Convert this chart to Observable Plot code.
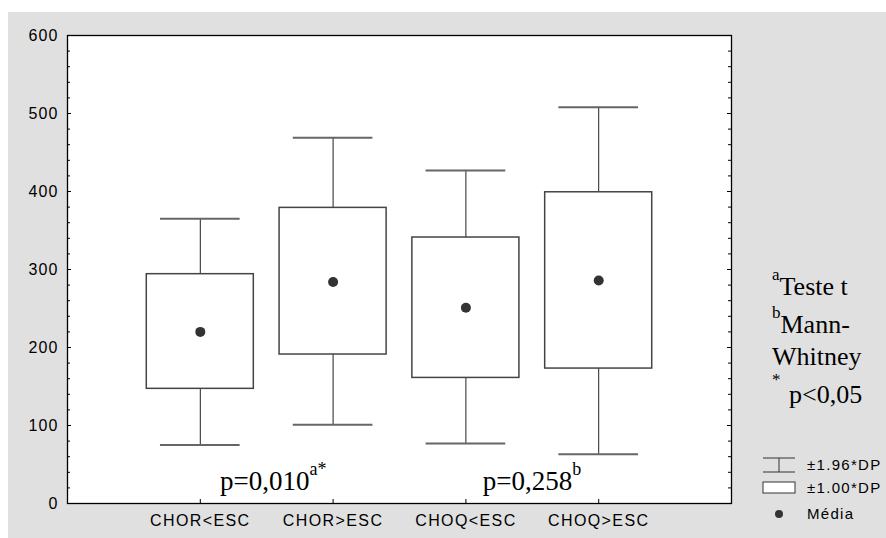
<!DOCTYPE html>
<html>
<head>
<meta charset="utf-8">
<script src="https://cdn.jsdelivr.net/npm/d3@7"></script>
<script src="https://cdn.jsdelivr.net/npm/@observablehq/plot@0.6"></script>
<style>
  body { margin: 0; background: white; }
  #chart svg { display: block; }
  #chart svg [aria-label="y-axis tick label"] text { letter-spacing: 1.1px; }
  #chart svg [aria-label="x-axis tick label"] text { letter-spacing: 1.4px; }
</style>
</head>
<body>
<div id="chart"></div>
<script>
const categories = ["CHOR<ESC", "CHOR>ESC", "CHOQ<ESC", "CHOQ>ESC"];
const means      = [220, 284, 251, 286];
const sd1Low     = [147, 191, 161, 173];
const sd1High    = [294, 379, 341, 399];
const sd196Low   = [75, 101, 77, 63];
const sd196High  = [365, 469, 427, 508];
const yTicks     = [0, 100, 200, 300, 400, 500, 600];
const minorTicks = d3.range(0, 601, 20);
const positions  = [1, 2, 3, 4];

const rows = categories.map((c, i) => ({
  cat: c, pos: positions[i], mean: means[i],
  lo1: sd1Low[i], hi1: sd1High[i], lo2: sd196Low[i], hi2: sd196High[i]
}));

const W = 886, H = 538, ML = 67, MR = 155, MT = 35, MB = 35;
const PW = W - ML - MR, PH = H - MT - MB;

const plot = Plot.plot({
  width: W, height: H,
  marginLeft: ML, marginRight: MR, marginTop: MT, marginBottom: MB,
  style: {fontFamily: "'Liberation Sans', Arial, sans-serif", fontSize: "16px", color: "black", background: "white"},
  x: {domain: [0, 5], label: null},
  y: {domain: [0, 600], label: null},
  marks: [
    Plot.frame({fill: "white"}),
    Plot.tickY(minorTicks, {y: d => d, insetRight: PW - 3, stroke: "black"}),
    Plot.tickY(yTicks, {y: d => d, insetRight: PW - 4, stroke: "black"}),
    Plot.tickY(minorTicks, {y: d => d, insetLeft: PW - 3, stroke: "black"}),
    Plot.tickY(yTicks, {y: d => d, insetLeft: PW - 4, stroke: "black"}),
    Plot.tickX(positions, {x: d => d, insetTop: PH - 4, stroke: "black"}),
    Plot.ruleX(rows, {x: "pos", y1: "lo2", y2: "hi2", stroke: "#222", strokeWidth: 1}),
    Plot.ruleY(rows, {y: "hi2", x1: d => d.pos - 0.3, x2: d => d.pos + 0.3, stroke: "#666", strokeWidth: 2}),
    Plot.ruleY(rows, {y: "lo2", x1: d => d.pos - 0.3, x2: d => d.pos + 0.3, stroke: "#666", strokeWidth: 2}),
    Plot.rect(rows, {x1: d => d.pos - 0.403, x2: d => d.pos + 0.403, y1: "lo1", y2: "hi1", fill: "white", stroke: "#444", strokeWidth: 1.5}),
    Plot.dot(rows, {x: "pos", y: "mean", r: 5, fill: "#333", stroke: "none"}),
    Plot.frame({stroke: "black", strokeWidth: 1.3}),
    Plot.axisY({ticks: yTicks, tickSize: 0, tickPadding: 9, label: null}),
    Plot.axisX({ticks: positions, tickFormat: d => categories[d - 1], tickSize: 0, tickPadding: 11, label: null})
  ]
});

const svg = d3.select(plot);
// gray panel background
svg.insert("rect", ":first-child")
  .attr("x", 8).attr("y", 12).attr("width", W - 8).attr("height", H - 12)
  .attr("fill", "#e0e0e0");

const xs = plot.scale("x"), ys = plot.scale("y");
const serif = "'Liberation Serif', 'Times New Roman', serif";

function supText(x, y, parts, size) {
  const t = svg.append("text").attr("x", x).attr("y", y)
    .attr("text-anchor", "start")
    .attr("font-family", serif).attr("font-size", size).attr("fill", "black");
  parts.forEach(p => {
    const ts = t.append("tspan").text(p.text);
    if (p.size) ts.attr("font-size", p.size);
    if (p.dy != null) ts.attr("dy", p.dy);
    if (p.x != null) ts.attr("x", p.x);
  });
  return t;
}

// p-values inside plot
supText(xs.apply(1.152), ys.apply(17), [
  {text: "p=0,010"}, {text: "a*", size: 18, dy: -15}
], 27);
supText(xs.apply(3.13), ys.apply(17), [
  {text: "p=0,258"}, {text: "b", size: 18, dy: -15}
], 27);

// notes on the right
const nx = 772;
supText(nx, 280, [{text: "a", size: 17}, {text: "Teste t", dy: 15}], 26);
supText(nx, 318, [{text: "b", size: 17}, {text: "Mann-", dy: 15}], 26);
supText(nx, 365, [{text: "Whitney"}], 26);
supText(nx, 385, [{text: "*", size: 17}, {text: "p<0,05", dy: 18, x: 789}], 26);

// legend
const lg = svg.append("g").attr("font-family", "'Liberation Sans', Arial, sans-serif")
  .attr("font-size", 15).attr("fill", "black").attr("text-anchor", "start");
const lx0 = 763, lx1 = 795, lxm = 779;
lg.append("line").attr("x1", lx0).attr("x2", lx1).attr("y1", 458).attr("y2", 458).attr("stroke", "#333");
lg.append("line").attr("x1", lx0).attr("x2", lx1).attr("y1", 472).attr("y2", 472).attr("stroke", "#333");
lg.append("line").attr("x1", lxm).attr("x2", lxm).attr("y1", 458).attr("y2", 472).attr("stroke", "#333");
lg.append("rect").attr("x", lx0).attr("y", 482).attr("width", lx1 - lx0).attr("height", 11)
  .attr("fill", "white").attr("stroke", "#333");
lg.append("circle").attr("cx", lxm).attr("cy", 514).attr("r", 4).attr("fill", "#333");
const legendLabels = ["±1.96*DP", "±1.00*DP", "Média"];
const legendY = [470, 493, 519];
legendLabels.forEach((s, i) => {
  lg.append("text").attr("x", 807).attr("y", legendY[i]).attr("letter-spacing", "1.3px").text(s);
});

document.getElementById("chart").appendChild(plot);
</script>
</body>
</html>
